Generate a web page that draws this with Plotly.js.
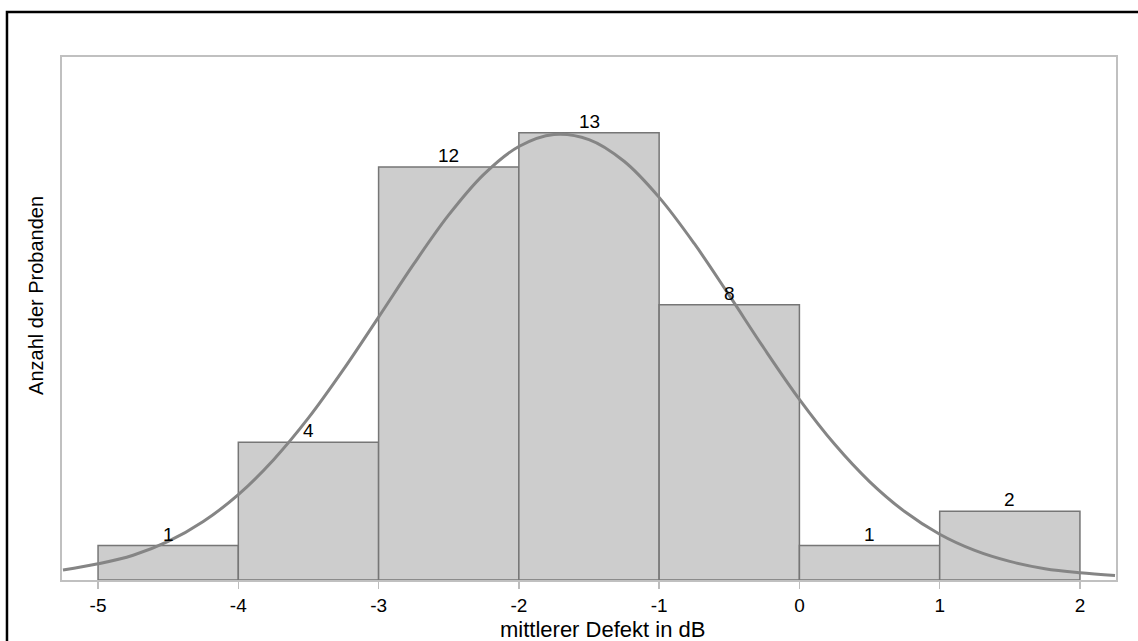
<!DOCTYPE html>
<html>
<head>
<meta charset="utf-8">
<script src="https://cdn.plot.ly/plotly-3.0.1.min.js"></script>
<style>html,body{margin:0;padding:0;background:#fff;}#chart{width:1138px;height:641px;}</style>
</head>
<body>
<div id="chart"></div>
<script>
// Histogram bins (centers) and counts
const binCenters = [-4.5, -3.5, -2.5, -1.5, -0.5, 0.5, 1.5];
const counts = [1, 4, 12, 13, 8, 1, 2];
// Fitted normal curve
const curveX = [-5.25, -5, -4.75, -4.5, -4.25, -4, -3.75, -3.5, -3.25, -3, -2.75, -2.5, -2.25, -2, -1.75, -1.5, -1.25, -1, -0.75, -0.5, -0.25, 0, 0.25, 0.5, 0.75, 1, 1.25, 1.5, 1.75, 2, 2.25];
const curveY = [0.29, 0.47, 0.72, 1.12, 1.70, 2.48, 3.49, 4.71, 6.12, 7.64, 9.18, 10.61, 11.79, 12.60, 12.95, 12.80, 12.17, 11.12, 9.78, 8.27, 6.72, 5.25, 3.95, 2.86, 1.99, 1.33, 0.86, 0.54, 0.33, 0.21, 0.13];
const tickVals = [-5, -4, -3, -2, -1, 0, 1, 2];
const tickText = ["-5", "-4", "-3", "-2", "-1", "0", "1", "2"];
const xTitle = "mittlerer Defekt in dB";
const yTitle = "Anzahl der Probanden";

const FONT = "Liberation Sans, Arial, sans-serif";

const traces = [
  {
    type: "bar",
    x: binCenters,
    y: counts,
    width: 1,
    marker: {color: "#cdcdcd", line: {color: "#767676", width: 1.5}},
    hoverinfo: "skip"
  },
  {
    type: "scatter",
    mode: "lines",
    x: curveX,
    y: curveY,
    line: {color: "#858585", width: 3, shape: "spline", smoothing: 1},
    hoverinfo: "skip"
  }
];

const barLabels = binCenters.map((c, i) => ({
  text: String(counts[i]), x: c, y: counts[i], xref: "x", yref: "y",
  xanchor: "center", yanchor: "bottom", yshift: -1, showarrow: false,
  font: {family: FONT, size: 19, color: "#000"}
}));

const layout = {
  width: 1138,
  height: 641,
  margin: {l: 62, r: 22, t: 57, b: 61},
  paper_bgcolor: "#fff",
  plot_bgcolor: "#fff",
  showlegend: false,
  bargap: 0,
  font: {family: FONT, color: "#000"},
  xaxis: {
    range: [-5.257, 2.257],
    tickvals: tickVals,
    ticktext: tickText,
    ticks: "outside",
    ticklen: 7,
    tickwidth: 1.5,
    tickcolor: "#bdbdbd",
    tickfont: {family: FONT, size: 19, color: "#000"},
    showgrid: false,
    zeroline: false,
    showline: true,
    linecolor: "#c0c0c0",
    linewidth: 2,
    mirror: true
  },
  yaxis: {
    range: [0, 15.2],
    showticklabels: false,
    ticks: "",
    showgrid: false,
    zeroline: false,
    showline: true,
    linecolor: "#c0c0c0",
    linewidth: 2,
    mirror: true
  },
  annotations: barLabels.concat([
    {
      text: xTitle, xref: "paper", yref: "paper", x: 0.513, y: -0.0956,
      xanchor: "center", yanchor: "middle", showarrow: false,
      font: {family: FONT, size: 22, color: "#000"}
    },
    {
      text: yTitle, xref: "paper", yref: "paper", x: -0.0247, y: 0.545,
      xanchor: "center", yanchor: "middle", textangle: -90, showarrow: false,
      font: {family: FONT, size: 20, color: "#000"}
    }
  ]),
  shapes: [
    {
      type: "rect", xref: "paper", yref: "paper", layer: "above",
      x0: -0.0522, x1: 1.2, y0: -0.3, y1: 1.086,
      line: {color: "#000", width: 2.5}, fillcolor: "rgba(0,0,0,0)"
    }
  ]
};

Plotly.newPlot("chart", traces, layout, {displayModeBar: false, staticPlot: true});
</script>
</body>
</html>
